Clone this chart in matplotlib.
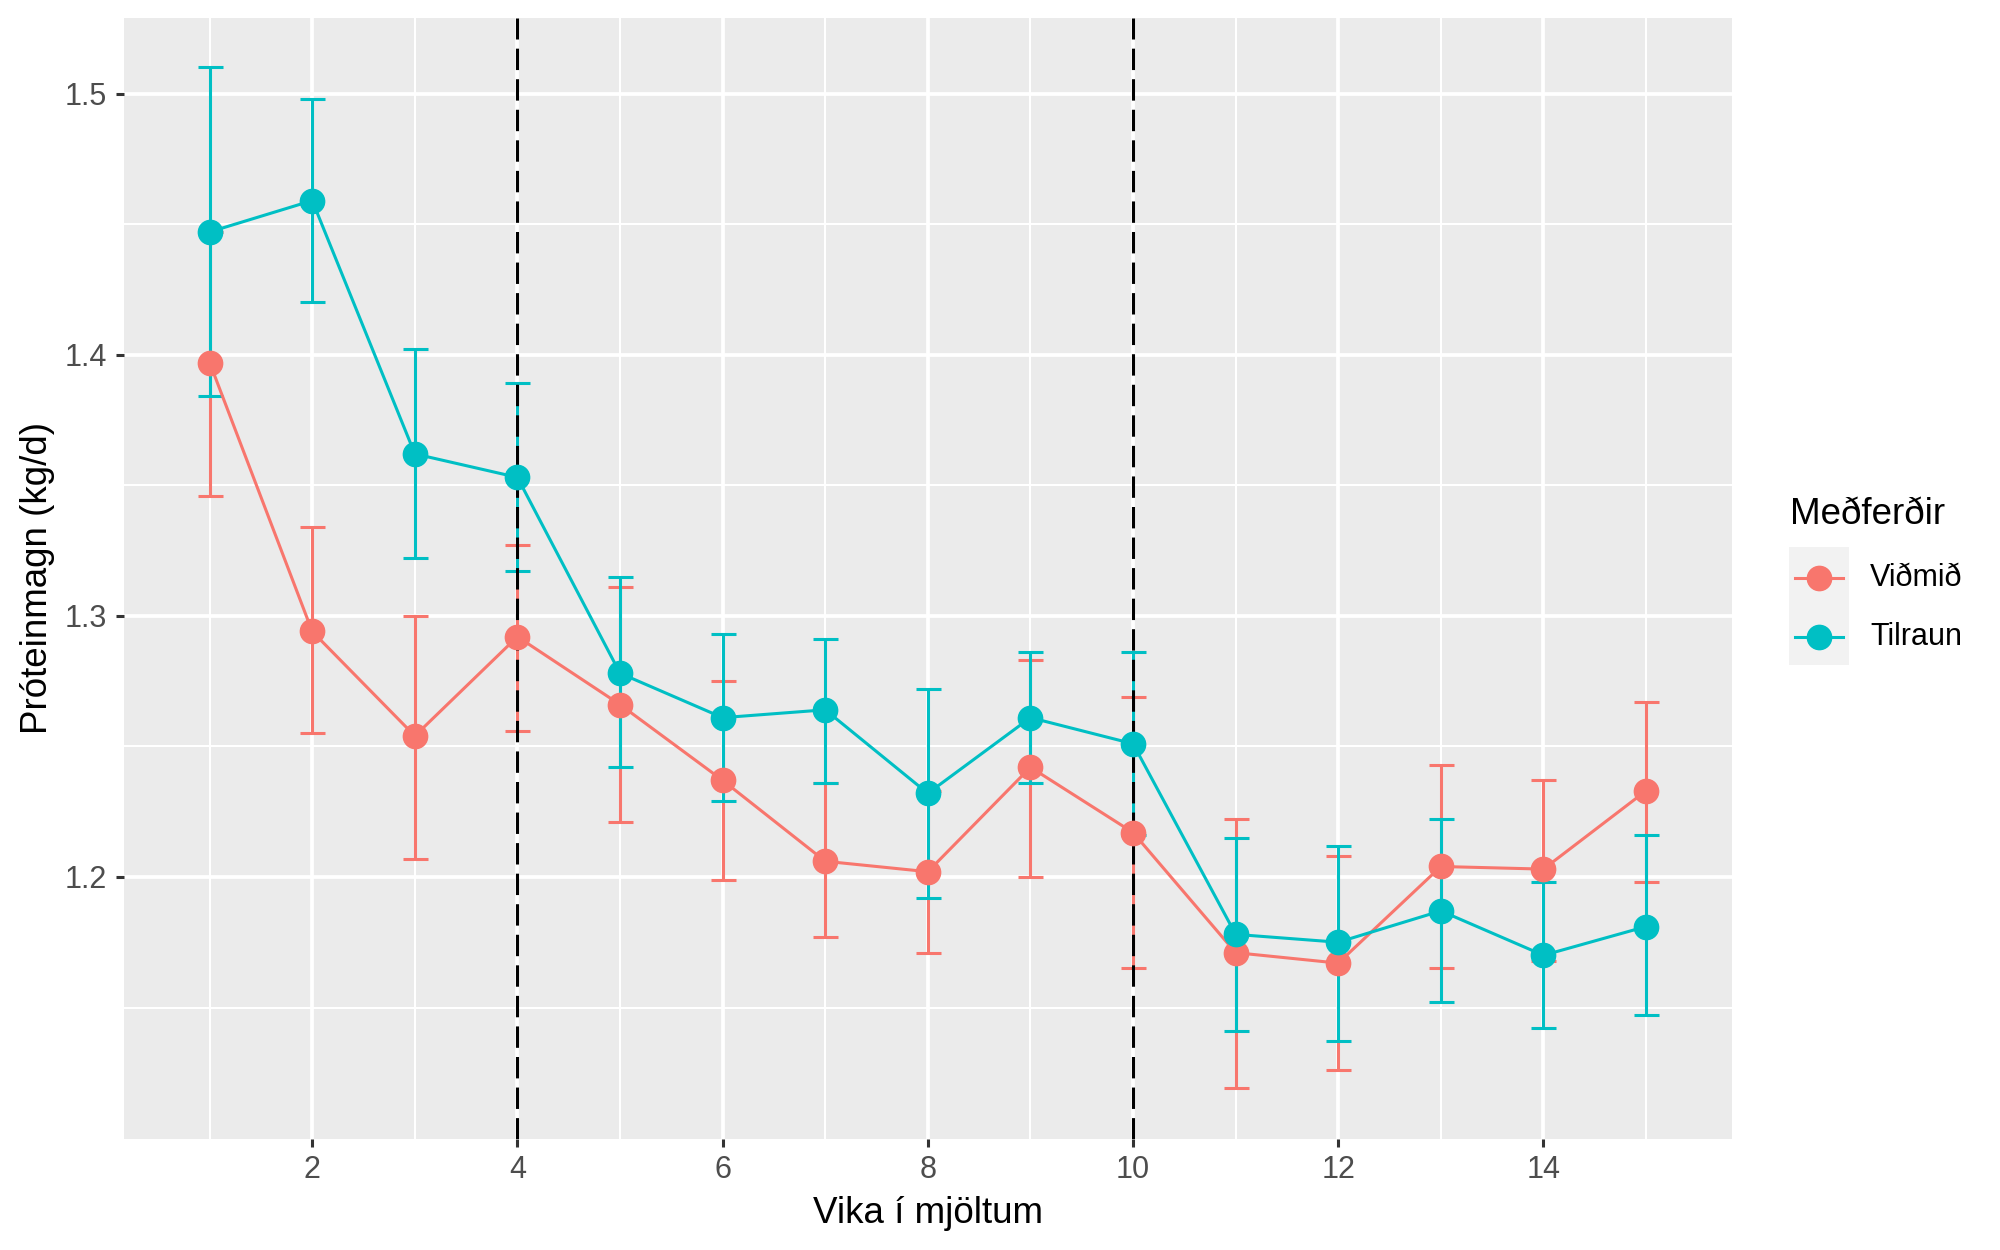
import numpy as np
import matplotlib.pyplot as plt
from matplotlib.lines import Line2D
from matplotlib.patches import Rectangle

#--- DATA ---#

weeks = np.arange(1, 16)

# Viðmið (control)
vidmid_mean = [1.397, 1.294, 1.254, 1.292, 1.266, 1.237, 1.206, 1.202, 1.242, 1.217, 1.171, 1.167, 1.204, 1.203, 1.233]
vidmid_low = [1.346, 1.255, 1.207, 1.256, 1.221, 1.199, 1.177, 1.171, 1.200, 1.165, 1.119, 1.126, 1.165, 1.168, 1.198]
vidmid_high = [1.447, 1.334, 1.300, 1.327, 1.311, 1.275, 1.236, 1.233, 1.283, 1.269, 1.222, 1.208, 1.243, 1.237, 1.267]

# Tilraun (trial)
tilraun_mean = [1.447, 1.459, 1.362, 1.353, 1.278, 1.261, 1.264, 1.232, 1.261, 1.251, 1.178, 1.175, 1.187, 1.170, 1.181]
tilraun_low = [1.384, 1.420, 1.322, 1.317, 1.242, 1.229, 1.236, 1.192, 1.236, 1.216, 1.141, 1.137, 1.152, 1.142, 1.147]
tilraun_high = [1.510, 1.498, 1.402, 1.389, 1.315, 1.293, 1.291, 1.272, 1.286, 1.286, 1.215, 1.212, 1.222, 1.198, 1.216]

groups = ["Viðmið", "Tilraun"]
cols = ["#F8766D", "#00BFC4"]
vlines_at = [4, 10]

x_ticks = [2, 4, 6, 8, 10, 12, 14]
y_ticks = [1.2, 1.3, 1.4, 1.5]

#--- STYLE ---#

plt.rcParams['font.family'] = ['Liberation Sans', 'DejaVu Sans']
W, H = 2000, 1250
lw = 2.2

fig = plt.figure(figsize=(W/100, H/100), dpi=100)
ax = fig.add_axes([123.7/W, 1 - 1138.6/H, (1732 - 123.7)/W, (1138.6 - 17.8)/H])
ax.set_facecolor("#EBEBEB")
for s in ax.spines.values():
    s.set_visible(False)

ax.set_xlim(0.1625, 15.8375)
ax.set_ylim(1.0998, 1.529)

# grid
ax.set_xticks(x_ticks)
ax.set_yticks(y_ticks)
ax.set_xticks(np.arange(1, 16, 2), minor=True)
ax.set_yticks([1.15, 1.25, 1.35, 1.45], minor=True)
ax.grid(which="major", color="white", linewidth=2.7, zorder=0)
ax.grid(which="minor", color="white", linewidth=1.5, zorder=0)
ax.set_axisbelow(True)
ax.tick_params(which="minor", length=0)
ax.tick_params(which="major", length=6, width=2.2, color="#333333",
               labelsize=22, labelcolor="#4D4D4D", pad=6)
ax.set_yticklabels(["1.2", "1.3", "1.4", "1.5"])

#--- PLOT ---#

means = [vidmid_mean, tilraun_mean]
lows = [vidmid_low, tilraun_low]
highs = [vidmid_high, tilraun_high]

for m, lo, hi, c in zip(means, lows, highs, cols):
    m = np.array(m)
    err = [m - np.array(lo), np.array(hi) - m]
    ax.errorbar(weeks, m, yerr=err, fmt="none", ecolor=c, elinewidth=lw,
                capsize=9, capthick=lw, zorder=2)

for v in vlines_at:
    ax.axvline(v, color="black", linewidth=lw, linestyle=(0, (7, 3)), zorder=3)

for m, c in zip(means, cols):
    ax.plot(weeks, m, color=c, linewidth=lw, zorder=4)
for m, c in zip(means, cols):
    ax.plot(weeks, m, linestyle="none", marker="o", markersize=17.5,
            markerfacecolor=c, markeredgecolor=c, zorder=5)

ax.set_xlabel("Vika í mjöltum", fontsize=26.5, color="black", labelpad=8)
ax.set_ylabel("Próteinmagn (kg/d)", fontsize=26.5, color="black", labelpad=7)

#--- LEGEND ---#

fig.text(1790/W, 1 - 514/H, "Meðferðir", fontsize=26.5, ha="left", va="center")
fig.add_artist(Rectangle((1789/W, 1 - 665/H), 60/W, 118/H, transform=fig.transFigure,
                         facecolor="#F2F2F2", edgecolor="none"))
key_y = [578, 637]
for g, c, ky in zip(groups, cols, key_y):
    fig.add_artist(Line2D([1795/W, 1843/W], [1 - ky/H, 1 - ky/H], transform=fig.transFigure,
                          color=c, linewidth=lw))
    fig.add_artist(Line2D([1819/W], [1 - ky/H], transform=fig.transFigure, marker="o",
                          markersize=17.5, color=c, linestyle="none"))
    fig.text(1870/W, 1 - ky/H, g, fontsize=22, ha="left", va="center")

plt.savefig("out.png", dpi=100)
plt.close(fig)
